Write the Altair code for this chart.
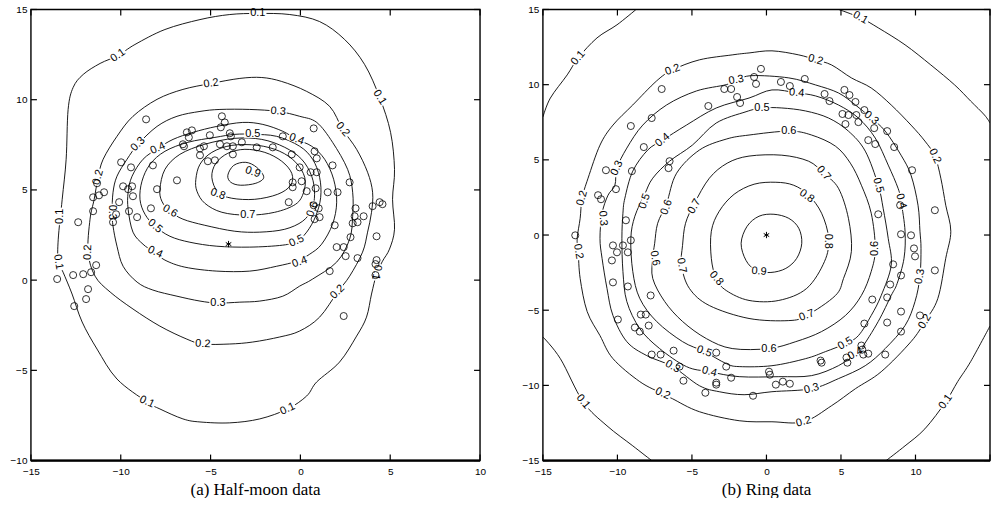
import altair as alt
import pandas as pd

FONT = "Liberation Sans"
SERIF = "Liberation Serif"

# ---------------- (a) Half-moon data ----------------
left_xticks = [-15, -10, -5, 0, 5, 10]
left_yticks = [-10, -5, 0, 5, 10, 15]
left_xlabels = [-15, -10, -5, 0, 5, 10]

left_c01 = [(-2.37, 14.78), (-0.59, 14.72), (1.07, 14.33), (2.46, 13.34), (3.57, 11.96), (4.41, 10.13),
            (5.02, 8.19), (5.24, 6.14), (5.13, 4.48), (5.24, 2.82), (4.96, 1.72), (4.57, 1.05), (4.24, 0.33),
            (3.96, -0.77), (3.68, -2.05), (3.13, -3.10), (2.18, -4.54), (0.91, -5.64), (0.35, -6.42),
            (-0.71, -7.14), (-2.26, -7.69), (-3.93, -7.91), (-5.59, -7.86), (-6.54, -7.69), (-7.82, -7.14),
            (-8.54, -6.75), (-10.21, -5.48), (-11.32, -3.82), (-12.15, -2.32), (-12.71, -0.77), (-13.21, 0.44),
            (-13.48, 1.05), (-13.48, 2.27), (-13.26, 4.48), (-13.04, 6.70), (-12.93, 9.46), (-12.65, 10.68),
            (-12.09, 11.40), (-11.15, 12.01), (-10.15, 12.45), (-9.21, 13.06), (-7.54, 13.89), (-5.59, 14.44),
            (-3.93, 14.72)]
left_c02 = [(-4.97, 10.90), (-3.37, 11.18), (-2.15, 11.23), (-1.04, 11.01), (0.35, 10.46), (1.63, 9.63),
            (2.35, 8.36), (3.13, 7.25), (3.74, 5.98), (4.02, 4.87), (3.96, 3.76), (3.74, 2.66), (3.46, 1.55),
            (2.74, 0.22), (2.07, -0.66), (1.07, -2.05), (-0.04, -2.82), (-1.15, -3.15), (-2.65, -3.43),
            (-3.93, -3.54), (-5.43, -3.54), (-6.32, -3.27), (-7.82, -2.55), (-9.32, -1.60), (-10.59, -0.66),
            (-11.43, 0.22), (-11.82, 1.55), (-11.71, 3.38), (-11.48, 4.48), (-11.26, 5.70), (-10.98, 6.70),
            (-10.21, 7.97), (-9.32, 9.08), (-7.98, 10.02), (-6.54, 10.57)]
left_c03 = [(-1.24, 9.35), (-0.04, 9.08), (0.91, 8.74), (1.79, 7.64), (2.63, 6.14), (2.91, 4.87), (2.91, 3.54),
            (2.74, 2.27), (2.02, 1.00), (0.68, 0.06), (-0.04, -0.33), (-0.98, -0.89), (-2.26, -1.16),
            (-3.37, -1.22), (-4.59, -1.27), (-5.59, -1.16), (-6.87, -0.89), (-8.21, -0.55), (-9.09, -0.11),
            (-9.87, 0.77), (-10.21, 1.88), (-10.43, 2.99), (-10.48, 3.76), (-10.43, 4.87), (-10.21, 5.76),
            (-9.65, 6.70), (-9.04, 7.53), (-7.98, 8.52), (-6.87, 9.08), (-5.59, 9.35), (-4.48, 9.46),
            (-2.82, 9.46)]
left_c04 = [(-7.93, 7.30), (-7.09, 7.80), (-5.98, 8.19), (-4.65, 8.52), (-3.21, 8.74), (-2.09, 8.63),
            (-0.98, 8.25), (-0.21, 7.80), (0.63, 7.42), (1.35, 6.70), (1.85, 5.59), (2.02, 4.32), (1.79, 3.10),
            (1.18, 1.99), (0.52, 1.44), (-0.21, 1.05), (-1.32, 0.77), (-2.82, 0.50), (-4.65, 0.50),
            (-6.43, 0.72), (-7.54, 1.11), (-8.21, 1.60), (-8.76, 1.99), (-9.32, 2.66), (-9.59, 3.93),
            (-9.59, 4.87), (-9.37, 5.76), (-8.76, 6.70)]
left_c05 = [(-2.65, 8.08), (-1.32, 7.97), (-0.04, 7.42), (0.68, 6.70), (1.07, 5.70), (1.13, 4.59), (0.85, 3.54),
            (0.35, 2.66), (-0.21, 2.16), (-0.98, 1.94), (-2.82, 1.83), (-4.65, 1.88), (-6.15, 2.10),
            (-7.26, 2.43), (-8.09, 2.99), (-8.65, 3.65), (-8.93, 4.48), (-8.82, 5.48), (-8.37, 6.42),
            (-7.54, 7.14), (-6.26, 7.64), (-4.76, 7.91), (-3.65, 8.08)]
left_c06 = [(-7.82, 5.04), (-7.54, 6.14), (-6.71, 6.97), (-5.32, 7.53), (-3.65, 7.86), (-2.15, 7.80),
            (-0.87, 7.36), (0.07, 6.70), (0.63, 5.76), (0.79, 4.76), (0.63, 3.93), (0.13, 3.27), (-0.87, 2.82),
            (-2.26, 2.66), (-3.65, 2.71), (-5.32, 3.04), (-6.54, 3.38), (-7.26, 3.82), (-7.71, 4.37)]
left_c07 = [(-5.82, 5.59), (-5.59, 6.42), (-4.93, 7.08), (-3.82, 7.47), (-2.37, 7.47), (-1.15, 7.14),
            (-0.26, 6.53), (0.24, 5.70), (0.18, 4.87), (-0.26, 4.21), (-1.43, 3.76), (-2.93, 3.60),
            (-4.37, 3.76), (-5.32, 4.26), (-5.76, 4.93)]
left_c08 = [(-4.93, 5.70), (-4.71, 6.47), (-4.04, 7.03), (-3.09, 7.25), (-1.98, 7.08), (-1.04, 6.59),
            (-0.48, 5.92), (-0.54, 5.26), (-1.26, 4.76), (-2.54, 4.48), (-3.82, 4.54), (-4.59, 4.87)]
left_c09 = [(-4.04, 5.81), (-3.71, 6.36), (-3.04, 6.53), (-2.43, 6.25), (-2.04, 5.70), (-2.48, 5.37),
            (-3.32, 5.26), (-3.87, 5.42)]

left_labels = [("0.1", -2.37, 14.78, 0), ("0.1", -10.15, 12.45, 325), ("0.1", 4.41, 10.13, 58),
               ("0.1", -13.37, 3.54, 270), ("0.1", -13.48, 1.0, 80), ("0.1", -8.54, -6.75, 25),
               ("0.1", -0.71, -7.14, 335), ("0.1", 4.24, 0.44, 100),
               ("0.2", -4.97, 10.90, 352), ("0.2", 2.35, 8.36, 50), ("0.2", 2.07, -0.66, 315),
               ("0.2", -5.43, -3.54, 3), ("0.2", -11.26, 5.70, 285), ("0.2", -11.82, 1.55, 272),
               ("0.3", -1.24, 9.35, 5), ("0.3", -9.04, 7.53, 315), ("0.3", -10.48, 3.76, 90),
               ("0.3", -4.59, -1.27, 0),
               ("0.4", -7.93, 7.30, 335), ("0.4", -0.21, 7.80, 20), ("0.4", -8.09, 1.55, 25),
               ("0.4", -0.04, 1.00, 340),
               ("0.5", -2.65, 8.08, 0), ("0.5", -8.09, 2.99, 40), ("0.5", -0.21, 2.16, 335),
               ("0.6", -7.26, 3.82, 30), ("0.6", 0.68, 3.93, 290),
               ("0.7", -2.93, 3.62, 0), ("0.8", -4.59, 4.76, 20), ("0.9", -2.65, 5.98, 20)]

left_pts = [(-8.59, 8.91), (-4.37, 9.08), (-4.21, 8.74), (-4.43, 8.47), (-6.32, 8.19), (-6.04, 8.30),
            (-6.21, 7.91), (-5.04, 8.03), (-6.54, 7.53), (-6.48, 7.42), (-5.37, 7.42), (-5.59, 7.30),
            (-4.48, 7.53), (-3.93, 8.14), (-3.87, 7.97), (-4.09, 7.42), (-3.76, 7.42), (-3.26, 7.64),
            (-5.59, 6.92), (-5.15, 6.59), (-4.76, 6.64), (-3.76, 6.97), (-2.43, 7.36), (-1.54, 7.36),
            (-0.98, 7.97), (-0.48, 6.97), (0.74, 8.41), (0.79, 7.14), (0.91, 6.75), (1.79, 6.36),
            (-0.04, 6.25), (0.57, 5.98), (0.91, 5.98), (-0.43, 5.42), (0.07, 5.48), (-0.43, 5.15),
            (0.35, 4.93), (-0.65, 4.32), (1.52, 4.87), (2.07, 4.87), (2.74, 5.42), (0.85, 5.09),
            (0.74, 4.15), (1.02, 3.98), (0.79, 3.38), (1.07, 3.49), (1.91, 3.04), (3.07, 3.98),
            (3.02, 3.54), (3.52, 3.54), (2.91, 3.15), (3.18, 3.21), (2.79, 2.38), (2.02, 1.83),
            (2.41, 1.83), (2.52, 1.33), (3.18, 1.22), (1.63, 0.50), (4.02, 4.10), (4.41, 4.32),
            (4.57, 4.21), (4.24, 2.43), (4.24, 1.11), (4.18, 0.89), (4.18, 0.28), (2.41, -1.99),
            (-6.87, 5.53), (-7.98, 5.04), (-8.21, 6.36), (-9.43, 6.25), (-9.98, 6.53), (-9.87, 5.20),
            (-9.59, 5.04), (-9.37, 5.20), (-9.32, 4.65), (-10.09, 4.32), (-10.26, 3.65), (-10.43, 3.21),
            (-9.54, 3.82), (-9.09, 3.49), (-8.32, 3.98), (-12.37, 3.21), (-11.54, 3.82), (-11.54, 4.59),
            (-11.21, 4.70), (-10.93, 4.87), (-11.32, 5.37), (-13.54, 0.06), (-12.65, 0.28), (-12.09, 0.33),
            (-11.65, 0.44), (-11.37, 0.83), (-11.82, -0.50), (-11.93, -1.05), (-12.59, -1.44)]
left_star = [(-4.0, 2.0)]

# ---------------- (b) Ring data ----------------
right_xticks = [-15, -10, -5, 0, 5, 10, 15]
right_yticks = [-15, -10, -5, 0, 5, 10, 15]
right_xlabels = [-15, -10, -5, 0, 5, 10]   # the "15" label falls outside the picture

right_c02 = [(-12.70, -0.22), (-12.50, 1.11), (-12.37, 2.45), (-11.97, 3.78), (-11.17, 5.98), (-10.30, 7.31),
             (-8.97, 8.65), (-7.37, 10.25), (-6.30, 10.98), (-4.50, 11.65), (-2.30, 11.98), (-1.17, 12.11),
             (0.37, 12.25), (2.17, 11.98), (3.30, 11.65), (4.37, 11.31), (5.70, 10.45), (7.03, 9.78),
             (8.37, 8.65), (9.70, 7.31), (10.63, 6.25), (11.30, 5.25), (11.70, 3.78), (12.03, 1.98),
             (12.37, 0.25), (12.03, -1.55), (11.50, -4.22), (10.63, -5.75), (9.70, -7.09), (7.70, -9.09),
             (5.97, -10.22), (4.37, -11.35), (2.50, -12.42), (0.37, -12.42), (-1.83, -12.35), (-4.50, -11.75),
             (-6.30, -10.89), (-6.97, -10.55), (-8.50, -9.75), (-10.30, -8.22), (-11.17, -6.69),
             (-12.03, -5.09), (-12.50, -2.89), (-12.63, -1.09)]
right_c03 = [(-11.17, -0.22), (-11.03, 1.45), (-10.63, 2.65), (-10.17, 3.31), (-10.03, 4.45), (-9.37, 5.78),
             (-8.30, 7.31), (-6.70, 8.65), (-4.70, 9.58), (-2.70, 10.0), (-2.03, 10.3), (-0.97, 10.6),
             (1.50, 10.45), (3.30, 9.98), (4.83, 9.45), (5.97, 8.65), (7.03, 7.78), (7.97, 6.91), (9.03, 5.31),
             (9.70, 3.98), (10.17, 1.98), (10.30, 0.25), (10.37, -0.89), (10.30, -2.75), (9.97, -4.42),
             (9.30, -6.02), (7.97, -7.55), (6.63, -8.69), (4.83, -9.55), (3.03, -10.22), (0.37, -10.42),
             (-1.50, -10.62), (-3.17, -10.42), (-4.50, -10.02), (-6.30, -8.75), (-8.03, -8.02),
             (-9.37, -7.09), (-10.30, -5.35), (-10.70, -3.55), (-11.03, -1.55)]
right_c04 = [(-9.70, -0.22), (-9.63, 1.45), (-9.50, 2.45), (-8.97, 4.25), (-7.97, 5.65), (-6.97, 6.31),
             (-5.37, 7.31), (-3.37, 8.45), (-1.17, 9.11), (0.37, 9.65), (2.03, 9.45), (3.30, 9.25),
             (4.83, 8.65), (6.17, 7.78), (7.30, 6.45), (8.17, 4.65), (8.83, 3.11), (9.03, 2.25), (9.30, 0.25),
             (9.23, -1.55), (8.77, -3.22), (8.37, -4.02), (7.50, -5.75), (6.37, -7.55), (5.97, -7.89),
             (4.83, -8.69), (3.03, -9.35), (0.83, -9.42), (-1.83, -9.42), (-3.83, -9.09), (-5.37, -8.75),
             (-7.17, -7.55), (-8.50, -6.22), (-9.37, -4.42), (-9.63, -2.42)]
right_c05 = [(-9.10, -0.22), (-8.83, 1.25), (-8.17, 2.71), (-7.63, 3.78), (-6.50, 4.91), (-4.97, 5.98),
             (-3.37, 7.45), (-1.37, 8.2), (-0.30, 8.45), (1.03, 8.45), (2.63, 8.25), (4.17, 7.78),
             (5.50, 6.91), (6.63, 5.58), (7.50, 3.31), (7.83, 1.78), (8.17, -0.22), (8.37, -2.02),
             (7.70, -4.02), (7.03, -5.35), (6.17, -6.69), (5.30, -7.22), (3.97, -7.75), (2.63, -8.22),
             (0.37, -8.69), (-1.83, -8.75), (-2.70, -8.55), (-4.17, -7.75), (-5.63, -7.09), (-7.37, -5.75),
             (-8.50, -4.22), (-8.97, -2.42)]
right_c06 = [(-7.50, -0.55), (-7.30, 0.78), (-6.70, 2.11), (-6.03, 4.11), (-4.50, 5.65), (-2.70, 6.38),
             (-1.17, 6.65), (1.50, 6.91), (3.03, 6.65), (4.63, 5.91), (5.63, 4.78), (6.37, 3.31), (7.03, 1.45),
             (7.30, -0.89), (7.03, -2.42), (6.37, -4.02), (5.30, -5.35), (3.70, -6.42), (1.97, -7.09),
             (0.17, -7.55), (-2.30, -7.55), (-4.03, -6.89), (-5.63, -5.75), (-6.83, -4.42), (-7.63, -2.89),
             (-7.63, -1.55)]
right_c07 = [(-5.63, -0.69), (-5.43, 0.78), (-4.83, 2.11), (-3.83, 3.78), (-2.63, 4.78), (-1.17, 5.25),
             (1.03, 5.31), (2.83, 4.91), (3.83, 4.11), (4.83, 3.11), (5.50, 1.11), (5.70, -1.09), (5.17, -2.89),
             (4.63, -4.02), (2.70, -5.35), (1.50, -5.69), (-1.17, -5.55), (-3.83, -4.69), (-5.17, -3.55),
             (-5.70, -2.02)]
right_c08 = [(-3.70, 0.25), (-3.17, 1.58), (-2.17, 2.71), (-0.83, 3.38), (0.63, 3.51), (1.83, 3.31),
             (2.83, 2.65), (3.70, 1.45), (4.17, -0.22), (3.90, -1.75), (2.70, -3.55), (0.83, -4.35),
             (-1.17, -4.35), (-2.70, -3.69), (-3.37, -2.89), (-3.70, -1.55)]
right_c09 = [(-1.70, -0.55), (-1.30, 0.58), (-0.50, 1.25), (0.50, 1.38), (1.50, 1.11), (2.17, 0.45),
             (2.37, -0.55), (2.03, -1.55), (1.30, -2.22), (0.30, -2.49), (-0.70, -2.35), (-1.37, -1.69)]
# open pieces of the 0.1 level, ending on the frame
right_c01a = [(-15.0, 7.85), (-14.50, 9.11), (-13.37, 10.65), (-12.63, 11.78), (-11.37, 13.11),
              (-10.03, 13.98), (-8.75, 15.0)]
right_c01b = [(4.85, 15.0), (6.30, 14.45), (7.50, 13.78), (9.30, 12.65), (11.03, 11.31),
              (12.63, 9.98), (13.70, 8.91), (14.63, 7.98), (15.0, 7.45)]
right_c01c = [(15.0, -6.05), (13.70, -8.42), (12.83, -9.75), (12.03, -11.09), (10.63, -12.89),
              (9.30, -14.02), (8.03, -15.0)]
right_c01d = [(-15.0, -6.78), (-13.83, -8.22), (-12.30, -11.09), (-10.70, -12.69),
              (-8.97, -14.02), (-7.70, -15.0)]

right_labels = [("0.1", -12.63, 11.78, 310), ("0.1", 6.30, 14.45, 30), ("0.1", 12.03, -11.09, 305),
                ("0.1", -12.30, -11.09, 50),
                ("0.2", -6.30, 10.98, 340), ("0.2", 3.30, 11.65, 15), ("0.2", 11.30, 5.25, 65),
                ("0.2", 10.63, -5.75, 300), ("0.2", 2.50, -12.42, 345), ("0.2", -6.97, -10.55, 25),
                ("0.2", -12.37, 2.45, 285), ("0.2", -12.63, -1.09, 80),
                ("0.3", -10.03, 4.45, 295), ("0.3", -10.97, 1.11, 85), ("0.3", -2.03, 10.31, 350),
                ("0.3", 7.03, 7.78, 40), ("0.3", 10.30, -2.75, 280), ("0.3", 3.03, -10.22, 345),
                ("0.3", -6.30, -8.75, 30),
                ("0.4", -6.97, 6.31, 320), ("0.4", 2.03, 9.45, 5), ("0.4", 9.03, 2.25, 75),
                ("0.4", -3.83, -9.09, 15), ("0.4", 5.97, -7.89, 330),
                ("0.5", -0.30, 8.45, 0), ("0.5", 7.50, 3.31, 75), ("0.5", -8.17, 2.25, 290),
                ("0.5", -4.17, -7.75, 20), ("0.5", 5.30, -7.22, 330),
                ("0.6", 1.50, 6.91, 0), ("0.6", -6.70, 1.85, 290), ("0.6", -7.50, -1.55, 80),
                ("0.6", 0.17, -7.55, 0), ("0.6", 7.30, -0.89, 270),
                ("0.7", 3.83, 4.11, 50), ("0.7", -4.83, 1.91, 300), ("0.7", -5.70, -2.02, 80),
                ("0.7", 2.70, -5.35, 340),
                ("0.8", 2.70, 2.58, 35), ("0.8", 4.10, -0.42, 90), ("0.8", -3.37, -2.89, 50),
                ("0.9", -0.50, -2.42, 5)]

right_pts = [(-7.03, 9.71), (-9.10, 7.25), (-7.70, 7.78), (-8.23, 5.85), (-10.77, 4.31), (-9.03, 4.25),
             (-6.50, 4.91), (-6.57, 4.45), (-11.30, 2.65), (-11.10, 2.38), (-10.10, 3.05), (-9.43, 0.98),
             (-12.83, -0.02), (-9.10, -0.35), (-10.30, -0.69), (-9.63, -0.69), (-3.90, 8.58), (-2.83, 9.71),
             (-2.37, 9.71), (-1.97, 9.18), (-1.77, 8.78), (-0.37, 11.05), (-0.83, 10.51), (-0.70, 10.05),
             (0.97, 10.18), (1.57, 9.91), (2.57, 10.38), (3.90, 9.38), (4.23, 8.91), (5.23, 9.65),
             (5.57, 9.31), (5.97, 8.85), (6.57, 8.31), (5.10, 8.05), (5.50, 7.98), (6.03, 7.98), (5.30, 7.38),
             (6.17, 7.51), (7.23, 7.11), (8.10, 6.91), (6.83, 6.31), (7.30, 6.05), (8.57, 5.85), (9.77, 4.31),
             (8.97, 1.98), (7.50, 1.38), (11.30, 1.65), (9.03, 0.05), (9.70, -0.02), (-10.03, -1.15),
             (-9.30, -1.15), (-10.37, -1.69), (-10.30, -3.15), (-9.30, -3.42), (-7.77, -4.02), (-9.97, -5.62),
             (-8.43, -5.29), (-8.10, -5.29), (-7.90, -6.02), (-8.83, -6.15), (-8.50, -6.42), (-7.70, -7.95),
             (-7.10, -7.95), (-6.23, -7.69), (-5.83, -8.75), (-5.57, -9.69), (-3.37, -7.82), (-2.70, -8.75),
             (-2.37, -9.49), (-3.37, -9.82), (-3.37, -9.95), (-4.10, -10.49), (-0.90, -10.69), (0.17, -9.09),
             (0.23, -9.29), (0.63, -9.95), (1.10, -9.75), (1.57, -9.89), (3.63, -8.35), (3.70, -8.49),
             (5.37, -8.15), (5.43, -8.49), (6.37, -7.35), (6.43, -7.62), (6.50, -7.95), (6.83, -7.89),
             (7.97, -7.95), (6.57, -5.89), (7.10, -4.29), (8.10, -5.82), (8.10, -4.15), (8.30, -3.29),
             (8.50, -1.95), (9.03, -2.69), (9.03, -5.09), (9.03, -6.42), (10.30, -5.35), (9.90, -0.89),
             (9.97, -1.42), (11.30, -2.35)]
right_star = [(0.0, 0.0)]

# ---------------- building ----------------
H = 452
TICK = 6
RECT = "M-1,-0.4H1V0.4H-1Z"
ASTER = "M0,-1L0,1M-0.87,-0.5L0.87,0.5M-0.87,0.5L0.87,-0.5"


def lines_df(curves):
    rows = []
    for cid, pts in curves:
        for i, (x, y) in enumerate(pts):
            rows.append({"id": cid, "i": i, "x": x, "y": y})
    return pd.DataFrame(rows)


def panel(W, closed, opened, labels, pts, star, xdom, ydom, xticks, yticks, xlabels, caption):
    xs = alt.Scale(domain=xdom, nice=False, zero=False)
    ys = alt.Scale(domain=ydom, nice=False, zero=False)
    xax = alt.Axis(values=xlabels, ticks=False, domain=False, grid=False, title=None,
                   labelFont=FONT, labelFontSize=10, labelColor="black", labelPadding=6,
                   labelFlush=False, labelOverlap=False)
    yax = alt.Axis(values=yticks, ticks=False, domain=False, grid=False, title=None,
                   labelFont=FONT, labelFontSize=10, labelColor="black", labelPadding=4,
                   labelFlush=False, labelOverlap=False)

    def X(f="x"):
        return alt.X(f"{f}:Q", scale=xs, axis=xax)

    def Y(f="y"):
        return alt.Y(f"{f}:Q", scale=ys, axis=yax)

    layers = []
    layers.append(
        alt.Chart(lines_df(closed)).mark_line(interpolate="cardinal-closed", color="black",
                                               strokeWidth=0.9, clip=True)
        .encode(x=X(), y=Y(), detail="id:N", order="i:Q"))
    if opened:
        layers.append(
            alt.Chart(lines_df(opened)).mark_line(interpolate="cardinal", color="black",
                                                   strokeWidth=0.9, clip=True)
            .encode(x=X(), y=Y(), detail="id:N", order="i:Q"))
    lab = pd.DataFrame(labels, columns=["t", "x", "y", "a"])
    layers.append(
        alt.Chart(lab).mark_point(shape=RECT, filled=True, color="white", size=300,
                                  strokeWidth=0, opacity=1)
        .encode(x=X(), y=Y(), angle=alt.Angle("a:Q", scale=None)))
    layers.append(
        alt.Chart(lab).mark_text(font=FONT, fontSize=11, color="black", align="center", baseline="middle")
        .encode(x=X(), y=Y(), text="t:N", angle=alt.Angle("a:Q", scale=None)))
    p = pd.DataFrame(pts, columns=["x", "y"])
    layers.append(
        alt.Chart(p).mark_point(shape="circle", filled=False, color="black", size=50,
                                strokeWidth=0.8, opacity=1)
        .encode(x=X(), y=Y()))
    s = pd.DataFrame(star, columns=["x", "y"])
    layers.append(
        alt.Chart(s).mark_point(shape=ASTER, filled=False, color="black", size=40,
                                strokeWidth=1, opacity=1)
        .encode(x=X(), y=Y()))
    tx = pd.DataFrame({"v": xticks})
    ty = pd.DataFrame({"v": yticks})
    # inward ticks on all four sides (drawn as short rules in pixel lengths)
    layers.append(alt.Chart(tx).mark_rule(color="#000000", strokeWidth=1.2, opacity=1)
                  .encode(x=X("v"), y=alt.value(H), y2=alt.value(H - TICK)))
    layers.append(alt.Chart(tx).mark_rule(color="#000000", strokeWidth=1.2, opacity=1)
                  .encode(x=X("v"), y=alt.value(0), y2=alt.value(TICK)))
    layers.append(alt.Chart(ty).mark_rule(color="#000000", strokeWidth=1.2, opacity=1)
                  .encode(y=Y("v"), x=alt.value(0), x2=alt.value(TICK)))
    layers.append(alt.Chart(ty).mark_rule(color="#000000", strokeWidth=1.2, opacity=1)
                  .encode(y=Y("v"), x=alt.value(W), x2=alt.value(W - TICK)))
    # black box around the plot (bottom edge heavier, as in the reference)
    box = pd.DataFrame({"k": [0]})
    layers.append(alt.Chart(box).mark_rect(fill="white", fillOpacity=0, stroke="#000000",
                                           strokeWidth=1.4, opacity=1)
                  .encode(x=alt.value(0), x2=alt.value(W), y=alt.value(0), y2=alt.value(H)))
    layers.append(alt.Chart(box).mark_rule(color="#000000", strokeWidth=2.2, opacity=1)
                  .encode(x=alt.value(0), x2=alt.value(W), y=alt.value(H)))
    return alt.layer(*layers).properties(
        width=W, height=H,
        title=alt.TitleParams(caption, orient="bottom", font=SERIF, fontSize=17, fontWeight="normal",
                              color="black", offset=5, frame="group", anchor="middle"))


left = panel(450, [(f"c{k}", c) for k, c in enumerate(
    [left_c01, left_c02, left_c03, left_c04, left_c05, left_c06, left_c07, left_c08, left_c09])],
    None, left_labels, left_pts, left_star, [-15, 10], [-10, 15], left_xticks, left_yticks, left_xlabels,
    "(a) Half-moon data")

right = panel(448, [(f"c{k}", c) for k, c in enumerate(
    [right_c02, right_c03, right_c04, right_c05, right_c06, right_c07, right_c08, right_c09])],
    [("a", right_c01a), ("b", right_c01b), ("c", right_c01c), ("d", right_c01d)],
    right_labels, right_pts, right_star, [-15, 15], [-15, 15], right_xticks, right_yticks, right_xlabels,
    "(b) Ring data")

chart = alt.hconcat(left, right, spacing=63, bounds="flush").properties(
    padding={"left": 10, "top": 4, "right": 0, "bottom": 0},
    background="white"
).configure_view(strokeOpacity=0)

chart.save("out.html", embed_options={"renderer": "svg", "actions": False})
